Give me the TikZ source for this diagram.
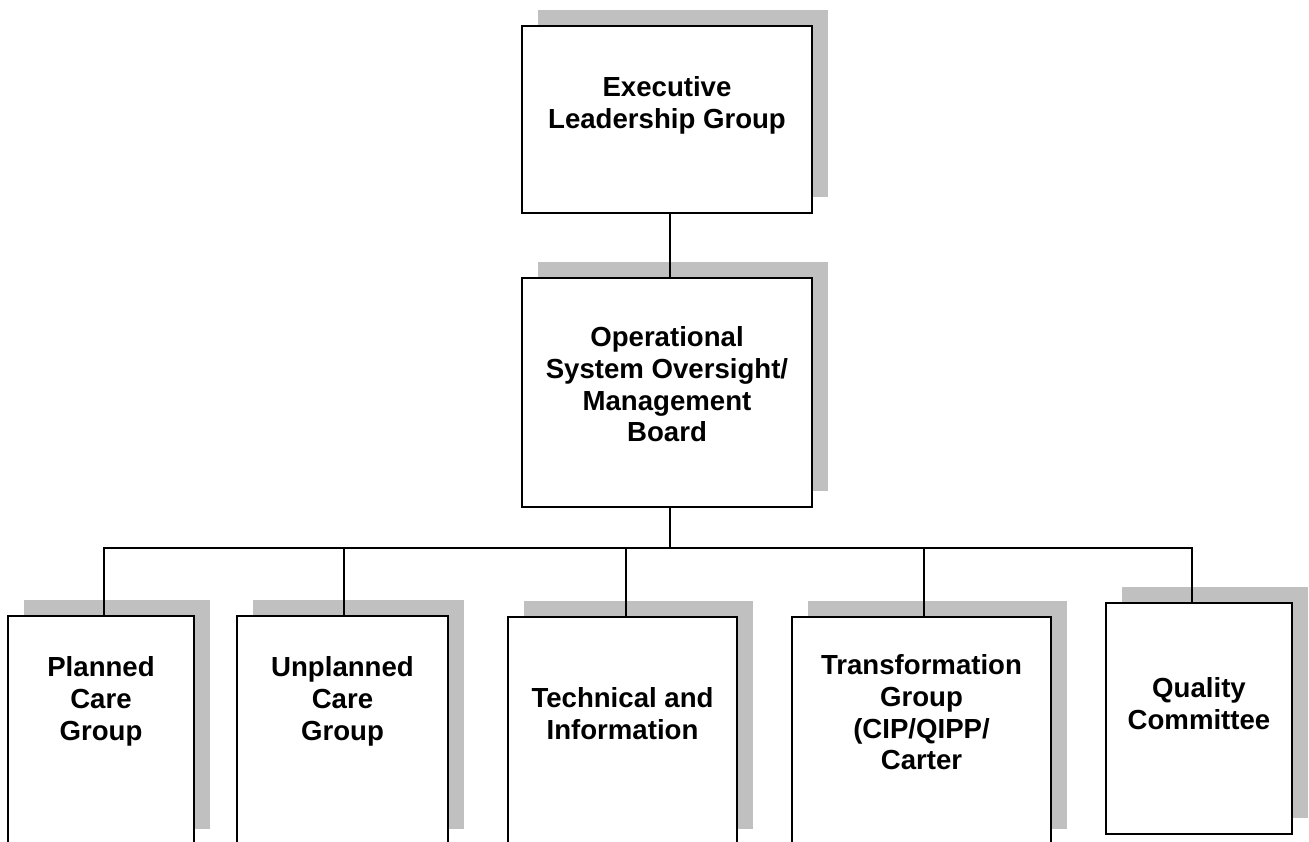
\documentclass[tikz,border=0pt]{standalone}
\usepackage{fontspec}
\setmainfont{Liberation Sans}
\usetikzlibrary{shadows}
\definecolor{shadowgray}{RGB}{192,192,192}
\newcommand\capstrut{\rule{0pt}{22pt}}
\begin{document}
\begin{tikzpicture}[x=1pt,y=-1pt,
  orgbox/.style={draw=black, line width=1.3pt, fill=white, rectangle, inner sep=0pt,
    drop shadow={shadow xshift=16pt, shadow yshift=16pt, fill=shadowgray, opacity=1}},
  lbl/.style={inner sep=0pt, anchor=north, align=center,
    font=\fontsize{27.6pt}{31.8pt}\selectfont\bfseries},
  conn/.style={line width=1.2pt, draw=black}]
\clip (0,0) rectangle (1309,841);
\fill[white] (0,0) rectangle (1309,841);
% boxes
\node[orgbox, minimum width=290pt, minimum height=187pt] (elg) at (667,119.5) {};
\node[orgbox, minimum width=290pt, minimum height=229pt] (oso) at (667,392.5) {};
\node[orgbox, minimum width=186pt, minimum height=229pt] (pc) at (101,730.5) {};
\node[orgbox, minimum width=211pt, minimum height=229pt] (uc) at (342.5,730.5) {};
\node[orgbox, minimum width=229pt, minimum height=228pt] (ti) at (622.5,731) {};
\node[orgbox, minimum width=259pt, minimum height=228pt] (tg) at (921.5,731) {};
\node[orgbox, minimum width=186pt, minimum height=231pt] (qc) at (1199,718.5) {};
% labels
\node[lbl] (elgt) at ([yshift=-49pt]elg.north) {\capstrut Executive\\Leadership Group};
\node[lbl] (osot) at ([yshift=-47pt]oso.north) {\capstrut Operational\\System Oversight/\\Management\\Board};
\node[lbl] (pct) at ([yshift=-39pt]pc.north) {\capstrut Planned\\Care\\Group};
\node[lbl] (uct) at ([yshift=-39pt]uc.north) {\capstrut Unplanned\\Care\\Group};
\node[lbl] (tit) at ([yshift=-69pt]ti.north) {\capstrut Technical and\\Information};
\node[lbl] (tgt) at ([yshift=-36pt]tg.north) {\capstrut Transformation\\Group\\(CIP/QIPP/\\Carter};
\node[lbl] (qct) at ([yshift=-73pt]qc.north) {\capstrut Quality\\Committee};
% connectors
\coordinate (bus) at (670,548);
\draw[conn] ([xshift=3pt]elg.south) -- ([xshift=3pt]oso.north);
\draw[conn] ([xshift=3pt]oso.south) -- (bus);
\draw[conn] (bus) -| ([xshift=3pt]pc.north);
\draw[conn] (bus) -| ([xshift=1.5pt]uc.north);
\draw[conn] (bus) -| ([xshift=3.5pt]ti.north);
\draw[conn] (bus) -| ([xshift=2.5pt]tg.north);
\draw[conn] (bus) -| ([xshift=-7pt]qc.north);
\end{tikzpicture}
\end{document}
